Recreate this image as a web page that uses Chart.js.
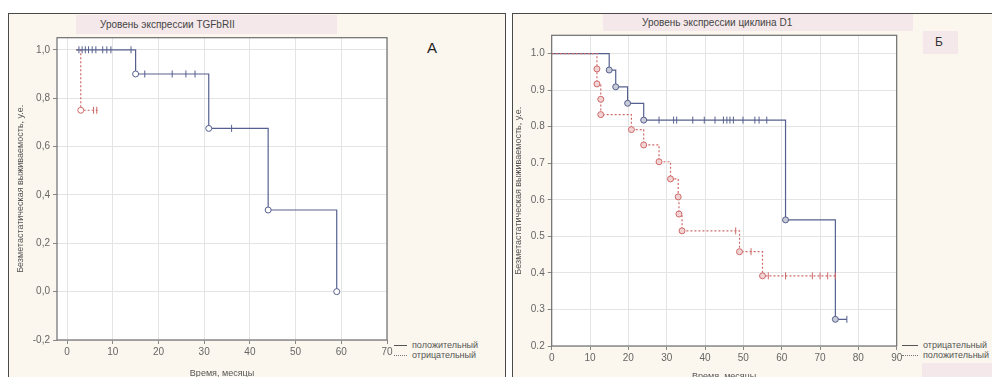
<!DOCTYPE html>
<html>
<head>
<meta charset="utf-8">
<script src="https://cdn.jsdelivr.net/npm/chart.js@4.4.1/dist/chart.umd.min.js"></script>
<style>
  body { margin: 0; width: 992px; height: 377px; overflow: hidden; position: relative; background: #fff;
         font-family: 'Liberation Sans', Arial, sans-serif; }
  .frame { position: absolute; top: 13px; height: 380px; background: #fcf7ee; border: 1.5px solid #4a4a4a; box-sizing: border-box; }
  .band { position: absolute; background: #f5e8ea; }
  .ttl { position: absolute; font-size: 10px; color: #444; white-space: nowrap; }
  .lg { position: absolute; font-size: 9px; color: #555; white-space: nowrap; line-height: 10px; }
  .lg i { display: inline-block; width: 13px; vertical-align: middle; margin-right: 5px; }
  canvas { position: absolute; }
</style>
</head>
<body>
<div class="frame" style="left:8px;width:498px"></div>
<div class="frame" style="left:512px;width:490px"></div>

<div class="band" style="left:76px;top:15px;width:261px;height:19px"></div>
<div class="ttl" style="left:100px;top:19px">Уровень экспрессии TGFbRII</div>
<div class="band" style="left:603px;top:14px;width:310px;height:17px"></div>
<div class="ttl" style="left:642px;top:17px">Уровень экспрессии циклина D1</div>

<div class="ttl" style="left:427px;top:39px;font-size:15px;color:#222">A</div>
<div class="band" style="left:923px;top:31px;width:35px;height:23px"></div>
<div class="ttl" style="left:935px;top:35px;font-size:12px;color:#333">Б</div>

<div class="lg" style="left:394px;top:340px"><i style="border-top:1px solid #555"></i>положительный</div>
<div class="lg" style="left:394px;top:350px"><i style="border-top:1px dotted #777"></i>отрицательный</div>
<div class="band" style="left:922px;top:363px;width:70px;height:14px"></div>
<div class="lg" style="left:902px;top:340px"><i style="border-top:1px solid #555;width:16px"></i>отрицательный</div>
<div class="lg" style="left:902px;top:350px"><i style="border-top:1px dotted #777;width:16px"></i>положительный</div>

<canvas id="chartA" width="497" height="366" style="left:8px;top:13px"></canvas>
<canvas id="chartB" width="480" height="380" style="left:512px;top:13px"></canvas>

<script>
// Панель A: уровень экспрессии TGFbRII
const tgfPosStart = 2;
const tgfPosEvents = [15, 31, 44, 59];
const tgfPosSurv = [0.9, 0.675, 0.3375, 0.0];
const tgfPosCensored = [2.6, 3.3, 4, 4.7, 5.5, 6.3, 7.8, 8.7, 9.6, 14, 17, 23, 26, 28, 36];
const tgfPosEnd = 59;

const tgfNegStart = 2;
const tgfNegEvents = [3];
const tgfNegSurv = [0.75];
const tgfNegCensored = [5.8, 6.5];
const tgfNegEnd = 7;

// Панель Б: уровень экспрессии циклина D1
const cycNegStart = 0;
const cycNegEvents = [15, 16.7, 19.8, 24, 61, 74];
const cycNegSurv = [0.955, 0.909, 0.864, 0.818, 0.545, 0.273];
const cycNegCensored = [28, 31.8, 32.6, 36.8, 39.8, 42.6, 44.8, 45.7, 46.5, 47.4, 49.9, 53, 54.1, 56.1, 77];
const cycNegEnd = 77;

const cycPosStart = 0;
const cycPosEvents = [11.8, 11.8, 12.8, 12.8, 20.8, 24, 28, 31, 33, 33.2, 34, 49, 55];
const cycPosSurv = [0.958, 0.917, 0.875, 0.833, 0.792, 0.75, 0.704, 0.657, 0.608, 0.561, 0.515, 0.458, 0.392];
const cycPosCensored = [48, 52, 56.5, 61, 68, 70, 72, 74];
const cycPosEnd = 74;

const BLUE = '#56608f';
const RED = '#cf6a6a';
const FONT = "'Liberation Sans', Arial, sans-serif";

function stepPoints(start, times, surv, end) {
  const pts = [{ x: start, y: 1 }];
  times.forEach((t, i) => pts.push({ x: t, y: surv[i] }));
  pts.push({ x: end, y: surv[surv.length - 1] });
  return pts;
}
function levelAt(times, surv, t) {
  let y = 1;
  times.forEach((tt, i) => {
    if (tt <= t) y = surv[i];
  });
  return y;
}

function curve(start, times, surv, end, color, dash, fill) {
  return {
    data: stepPoints(start, times, surv, end),
    showLine: true,
    stepped: 'before',
    borderColor: color,
    borderWidth: 1.2,
    borderDash: dash,
    pointStyle: 'circle',
    pointRadius: [0, ...times.map(() => 3), 0],
    pointBackgroundColor: fill,
    pointBorderColor: color,
    pointBorderWidth: 1,
  };
}
function censored(times, surv, cens, color) {
  return {
    data: cens.map((t) => ({ x: t, y: levelAt(times, surv, t) })),
    showLine: false,
    pointStyle: 'line',
    rotation: 90,
    pointRadius: 3.5,
    pointBorderColor: color,
    pointBorderWidth: 1,
  };
}

// белая подложка и рамка области графика
const plotFrame = {
  id: 'plotFrame',
  beforeDraw(chart) {
    const a = chart.chartArea;
    chart.ctx.save();
    chart.ctx.fillStyle = '#fff';
    chart.ctx.fillRect(a.left, a.top, a.right - a.left, a.bottom - a.top);
    chart.ctx.restore();
  },
  afterDraw(chart) {
    const a = chart.chartArea;
    const ctx = chart.ctx;
    ctx.save();
    ctx.strokeStyle = '#6e6e6e';
    ctx.lineWidth = 1.2;
    ctx.strokeRect(a.left, a.top, a.right - a.left, a.bottom - a.top);
    ctx.restore();
  },
};

function makeOptions(o) {
  return {
    responsive: false,
    animation: false,
    layout: { padding: { left: 0, top: o.top, right: o.right, bottom: 0 } },
    plugins: { legend: { display: false }, tooltip: { enabled: false } },
    scales: {
      x: {
        type: 'linear',
        min: o.xMin,
        max: o.xMax,
        afterFit: (s) => { s.height = o.xHeight; },
        ticks: { stepSize: 10, includeBounds: false, color: '#666', padding: 2, maxRotation: 0,
                 font: { family: FONT, size: 10 } },
        grid: { color: '#e4e4e4', tickColor: '#888', tickLength: 4 },
        border: { display: false },
        title: { display: true, text: 'Время, месяцы', color: '#555',
                 font: { family: FONT, size: 9 }, padding: { top: 0, bottom: o.xTitlePad } },
      },
      y: {
        min: o.yMin,
        max: o.yMax,
        afterFit: (s) => { s.width = o.yWidth; },
        ticks: { stepSize: o.yStep, includeBounds: false, color: '#666', padding: 3,
                 font: { family: FONT, size: 10 }, callback: o.yLabel },
        grid: { color: '#e4e4e4', tickColor: '#888', tickLength: 4 },
        border: { display: false },
        title: { display: true, text: 'Безметастатическая выживаемость, у.е.', color: '#555',
                 font: { family: FONT, size: 9 }, padding: { top: o.yTitlePad, bottom: 0 } },
      },
    },
  };
}

new Chart(document.getElementById('chartA'), {
  type: 'scatter',
  data: {
    datasets: [
      curve(tgfPosStart, tgfPosEvents, tgfPosSurv, tgfPosEnd, BLUE, [], '#fff'),
      censored(tgfPosEvents, tgfPosSurv, tgfPosCensored, BLUE),
      curve(tgfNegStart, tgfNegEvents, tgfNegSurv, tgfNegEnd, RED, [2, 2], '#fff'),
      censored(tgfNegEvents, tgfNegSurv, tgfNegCensored, RED),
    ],
  },
  options: makeOptions({
    top: 24.7, right: 118, xMin: -2.2, xMax: 70, xHeight: 39, xTitlePad: 0,
    yMin: -0.2, yMax: 1.05, yStep: 0.2, yWidth: 49, yTitlePad: 7.5,
    yLabel: (v) => v.toFixed(1).replace('.', ','),
  }),
  plugins: [plotFrame],
});

new Chart(document.getElementById('chartB'), {
  type: 'scatter',
  data: {
    datasets: [
      curve(cycPosStart, cycPosEvents, cycPosSurv, cycPosEnd, RED, [2, 2], '#f2d4d4'),
      censored(cycPosEvents, cycPosSurv, cycPosCensored, RED),
      curve(cycNegStart, cycNegEvents, cycNegSurv, cycNegEnd, BLUE, [], '#c9cbd6'),
      censored(cycNegEvents, cycNegSurv, cycNegCensored, BLUE),
    ],
  },
  options: makeOptions({
    top: 22.3, right: 95.3, xMin: 0, xMax: 90, xHeight: 47, xTitlePad: 10.6,
    yMin: 0.2, yMax: 1.05, yStep: 0.1, yWidth: 39.7, yTitlePad: 1,
    yLabel: (v) => v.toFixed(1),
  }),
  plugins: [plotFrame],
});
</script>
</body>
</html>
